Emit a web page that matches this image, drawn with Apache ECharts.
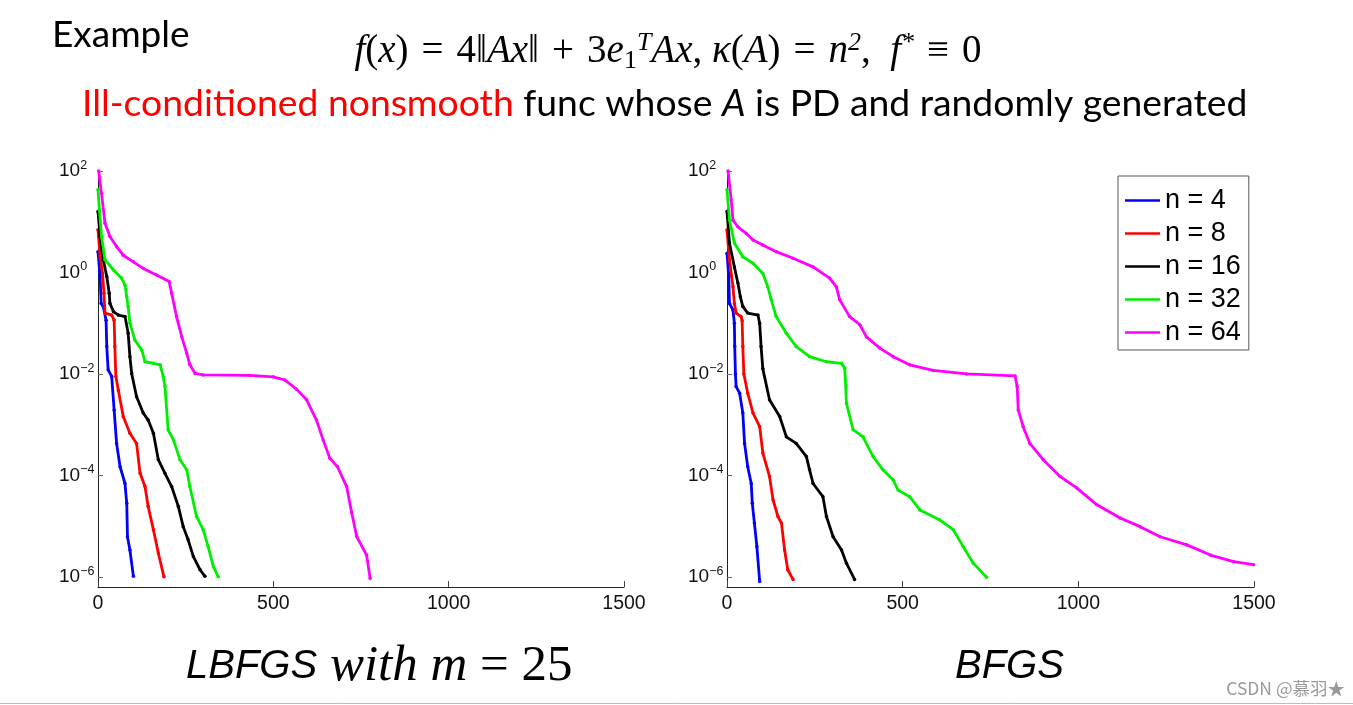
<!DOCTYPE html>
<html><head><meta charset="utf-8">
<script src="https://cdn.jsdelivr.net/npm/echarts@6/dist/echarts.min.js"></script>
<style>html,body{margin:0;padding:0;background:#fff}#c{width:1353px;height:705px}</style>
</head><body><div id="c"></div>
<script>
// values: [iteration, log10(f - f*)]
const seriesNames = ['n = 4', 'n = 8', 'n = 16', 'n = 32', 'n = 64'];
const xTicks = [0, 500, 1000, 1500];
const yTickExponents = [-6, -4, -2, 0, 2];

const lbfgsN4 = [[0,0.41],[6,-0.08],[9,-0.61],[15,-0.67],[23,-0.94],[25,-1.46],[29,-1.92],[39,-2.05],[46,-2.71],[53,-3.37],[63,-3.83],[77,-4.16],[82,-4.55],[84,-5.21],[91,-5.47],[101,-5.99]];
const lbfgsN8 = [[0,0.84],[6,0.31],[13,-0.02],[17,-0.41],[20,-0.80],[39,-0.84],[46,-0.94],[48,-1.46],[51,-2.05],[58,-2.32],[72,-2.84],[91,-3.17],[110,-3.37],[120,-3.96],[134,-4.22],[143,-4.61],[158,-5.07],[172,-5.53],[188,-6.0]];
const lbfgsN16 = [[0,1.2],[6,0.71],[15,0.25],[25,-0.08],[32,-0.41],[34,-0.61],[44,-0.77],[58,-0.84],[77,-0.87],[86,-1.2],[91,-1.66],[96,-1.99],[110,-2.45],[129,-2.77],[143,-2.91],[158,-3.17],[172,-3.69],[191,-3.96],[210,-4.22],[229,-4.61],[243,-5.01],[257,-5.27],[272,-5.60],[291,-5.86],[305,-5.99]];
const lbfgsN32 = [[0,1.63],[4,1.23],[10,0.71],[20,0.25],[44,0.05],[67,-0.11],[77,-0.25],[82,-0.48],[86,-0.67],[91,-1.0],[105,-1.33],[125,-1.53],[134,-1.76],[158,-1.79],[177,-1.82],[186,-2.05],[191,-2.25],[200,-3.10],[215,-3.30],[234,-3.69],[253,-3.89],[262,-4.22],[281,-4.81],[300,-5.07],[314,-5.40],[329,-5.80],[343,-6.0]];
const lbfgsN64 = [[2,2.0],[10,1.56],[20,0.97],[34,0.71],[53,0.51],[72,0.34],[101,0.21],[129,0.08],[167,-0.05],[203,-0.18],[210,-0.41],[224,-0.87],[239,-1.27],[253,-1.59],[262,-1.82],[277,-1.99],[300,-2.02],[433,-2.03],[500,-2.06],[533,-2.12],[566,-2.30],[595,-2.51],[623,-2.91],[642,-3.30],[661,-3.66],[683,-3.83],[709,-4.22],[723,-4.72],[738,-5.21],[766,-5.57],[776,-6.03]];

const bfgsN4 = [[0,0.38],[5,-0.08],[7,-0.61],[17,-0.74],[21,-1.0],[22,-1.46],[24,-2.0],[26,-2.25],[36,-2.38],[45,-2.77],[50,-3.37],[59,-3.83],[69,-4.16],[72,-4.55],[78,-4.94],[85,-5.40],[93,-6.09]];
const bfgsN8 = [[0,0.84],[7,0.25],[17,-0.28],[21,-0.61],[26,-0.80],[40,-0.87],[43,-0.95],[45,-1.46],[48,-2.0],[59,-2.38],[74,-2.77],[93,-3.04],[102,-3.56],[121,-4.02],[131,-4.48],[145,-4.81],[155,-4.94],[164,-5.47],[173,-5.86],[188,-6.05]];
const bfgsN16 = [[0,1.2],[7,0.58],[21,0.11],[31,-0.21],[38,-0.48],[45,-0.67],[59,-0.80],[88,-0.84],[93,-1.0],[97,-1.46],[102,-1.9],[121,-2.51],[150,-2.84],[169,-3.24],[197,-3.37],[226,-3.63],[235,-3.89],[245,-4.16],[273,-4.42],[283,-4.81],[302,-5.21],[326,-5.47],[340,-5.73],[363,-6.05]];
const bfgsN32 = [[0,1.63],[7,1.03],[21,0.58],[45,0.31],[74,0.18],[102,-0.02],[116,-0.28],[126,-0.54],[140,-0.87],[169,-1.20],[197,-1.46],[235,-1.66],[283,-1.76],[326,-1.79],[335,-1.89],[337,-2.12],[340,-2.58],[359,-3.10],[387,-3.24],[416,-3.63],[444,-3.89],[473,-4.09],[487,-4.29],[520,-4.42],[549,-4.68],[606,-4.88],[644,-5.07],[672,-5.40],[701,-5.73],[739,-6.01]];
const bfgsN64 = [[3,2.0],[12,1.43],[17,1.03],[31,0.90],[55,0.77],[74,0.64],[102,0.54],[140,0.41],[188,0.28],[245,0.11],[292,-0.11],[311,-0.28],[321,-0.54],[349,-0.87],[378,-1.03],[397,-1.27],[435,-1.49],[473,-1.66],[520,-1.82],[587,-1.93],[682,-2.0],[820,-2.04],[826,-2.25],[829,-2.71],[843,-3.04],[862,-3.37],[900,-3.69],[948,-4.02],[996,-4.25],[1053,-4.58],[1119,-4.84],[1176,-5.01],[1233,-5.21],[1309,-5.37],[1376,-5.57],[1442,-5.70],[1499,-5.76]];

const lbfgsData = [lbfgsN4, lbfgsN8, lbfgsN16, lbfgsN32, lbfgsN64];
const bfgsData = [bfgsN4, bfgsN8, bfgsN16, bfgsN32, bfgsN64];
const colors = ['#0000ff', '#ff0000', '#000000', '#00ee00', '#ff00ff'];

const chart = echarts.init(document.getElementById('c'), null, {renderer: 'canvas'});
const axisFont = 'Liberation Sans, Arial, sans-serif';

function xAxisCfg(gi) {
  return {
    gridIndex: gi, type: 'value', min: 0, max: 1500, interval: 500,
    axisLine: {show: true, onZero: false, lineStyle: {color: '#222', width: 1}},
    axisTick: {show: true, inside: true, length: 6, lineStyle: {color: '#444'}, customValues: xTicks},
    axisLabel: {show: true, margin: 7, fontSize: 19.5, color: '#111', fontFamily: axisFont,
      customValues: xTicks, formatter: v => String(v)},
    splitLine: {show: false}
  };
}
function yAxisCfg(gi) {
  return {
    gridIndex: gi, type: 'value', min: -6.2, max: 2,
    axisLine: {show: true, onZero: false, lineStyle: {color: '#222', width: 1}},
    axisTick: {show: true, inside: true, length: 5, lineStyle: {color: '#666'}, customValues: yTickExponents},
    axisLabel: {
      show: true, margin: 39, align: 'left', customValues: yTickExponents,
      formatter: v => '{b|10}{s|' + String(Math.round(v)).replace('-', '\u2212') + '}',
      rich: {
        b: {fontSize: 19, lineHeight: 24, color: '#111', fontFamily: axisFont},
        s: {fontSize: 12.5, lineHeight: 11, verticalAlign: 'top', color: '#111', fontFamily: axisFont}
      }
    },
    splitLine: {show: false}
  };
}

const series = [];
[lbfgsData, bfgsData].forEach((set, gi) => {
  set.forEach((d, i) => {
    series.push({
      name: seriesNames[i], type: 'line', xAxisIndex: gi, yAxisIndex: gi,
      data: d, showSymbol: true, symbol: 'circle', symbolSize: 3.5,
      lineStyle: {color: colors[i], width: 2.8}, itemStyle: {color: colors[i]},
      animation: false, z: 2 + i, silent: true
    });
  });
});

const serif = "'Liberation Serif', 'DejaVu Serif', serif";
const sansIt = "'Liberation Sans', Arial, sans-serif";
const fs = 39;
const sp = '\u2004';

const option = {
  backgroundColor: '#fff',
  animation: false,
  grid: [
    {left: 98, top: 171, width: 526, height: 416, containLabel: false, outerBoundsMode: 'none'},
    {left: 727, top: 171, width: 527, height: 416, containLabel: false, outerBoundsMode: 'none'}
  ],
  xAxis: [xAxisCfg(0), xAxisCfg(1)],
  yAxis: [yAxisCfg(0), yAxisCfg(1)],
  legend: {
    show: true, orient: 'vertical', left: 1118, top: 176,
    data: seriesNames, icon: 'rect', itemWidth: 35, itemHeight: 2.5, itemGap: 6,
    padding: [11, 8, 4, 7], borderColor: '#555', borderWidth: 1, backgroundColor: '#fff',
    textStyle: {fontSize: 27, lineHeight: 24, color: '#000', fontFamily: axisFont},
    selectedMode: false
  },
  series: series,
  graphic: [
    {type: 'text', left: 52, top: 17, style: {text: 'Example', fontSize: 37, fontFamily: 'Lato, sans-serif', fill: '#000'}},
    {type: 'text', x: 668, y: 52, style: {
      text: '{i|f}{r|(}{i|x}{r|)' + sp + '=' + sp + '4\u2016}{i|Ax}{r|\u2016' + sp + '+' + sp + '3}{i|e}{sub|1}{sup|T}{i|Ax}{r|, }{i|\u03ba}{r|(}{i|A}{r|)' + sp + '=' + sp + '}{i|n}{sup|2}{r|,  }{i|f}{sup|*}{r|' + sp + '\u2261' + sp + '0}',
      textAlign: 'center', textVerticalAlign: 'middle',
      rich: {
        i: {fontSize: fs, fontStyle: 'italic', fontFamily: serif, lineHeight: 44, fill: '#000'},
        r: {fontSize: fs, fontFamily: serif, lineHeight: 44, fill: '#000'},
        sup: {fontSize: 26, fontFamily: serif, fontStyle: 'italic', lineHeight: 24, verticalAlign: 'top', fill: '#000'},
        sub: {fontSize: 26, fontFamily: serif, lineHeight: 22, verticalAlign: 'bottom', fill: '#000'}
      }
    }},
    {type: 'text', x: 82, y: 104, style: {
      text: '{r|Ill-conditioned nonsmooth}{k| func whose }{a|A}{k| is PD and randomly generated}',
      textAlign: 'left', textVerticalAlign: 'middle',
      rich: {
        r: {fontSize: 37.3, fontFamily: 'Lato, sans-serif', fill: '#ff0000'},
        k: {fontSize: 37.3, fontFamily: 'Lato, sans-serif', fill: '#000'},
        a: {fontSize: 37.3, fontFamily: 'Lato, sans-serif', fontStyle: 'italic', fill: '#000'}
      }
    }},
    {type: 'text', x: 186, y: 667, style: {
      text: '{s|LBFGS}{i| with }{i|m}{r| = 25}',
      textAlign: 'left', textVerticalAlign: 'middle',
      rich: {
        s: {fontSize: 40, fontStyle: 'italic', fontFamily: sansIt, fill: '#000'},
        i: {fontSize: 51, fontStyle: 'italic', fontFamily: serif, fill: '#000'},
        r: {fontSize: 51, fontFamily: serif, fill: '#000'}
      }
    }},
    {type: 'text', x: 955, y: 667, style: {
      text: 'BFGS', textAlign: 'left', textVerticalAlign: 'middle',
      fontSize: 40, fontStyle: 'italic', fontFamily: sansIt, fill: '#000'
    }},
    {type: 'line', shape: {x1: 0, y1: 703.5, x2: 1353, y2: 703.5}, style: {stroke: '#bbbbbb', lineWidth: 1}},
    {type: 'text', right: 8, top: 680, style: {text: 'CSDN @慕羽★', fontSize: 17.5, fontFamily: "'Noto Sans CJK SC', sans-serif", fill: '#999'}}
  ]
};
chart.setOption(option);
</script></body></html>
